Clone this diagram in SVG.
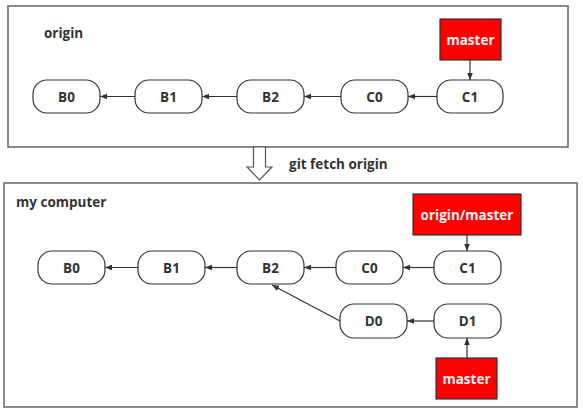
<svg xmlns="http://www.w3.org/2000/svg" width="583" height="416" viewBox="0 0 583 416">
<style>
.frame{fill:#fff;stroke:#666;stroke-width:1.5}
.node{fill:#fff;stroke:#333;stroke-width:1.2}
.ref{fill:#ff0000;stroke:#333;stroke-width:1.2}
.t{font-family:"Open Sans","DejaVu Sans",sans-serif;font-weight:bold;font-size:13.5px;fill:#333;text-anchor:middle;dominant-baseline:central}
.w{fill:#f4f4f4}
.lbl{font-family:"Open Sans","DejaVu Sans",sans-serif;font-weight:bold;font-size:13.5px;fill:#333}
.c{stroke:#333;stroke-width:1.2;fill:none;marker-end:url(#ah)}
</style>
<defs>
<marker id="ah" viewBox="0 0 10 10" refX="10" refY="5" markerWidth="7" markerHeight="7" markerUnits="userSpaceOnUse" orient="auto">
<path d="M0,1 L10,5 L0,9 Z" fill="#333"/>
</marker>
</defs>
<rect x="0" y="0" width="583" height="416" fill="#fff"/>
<g id="origin-frame">
<rect class="frame" x="8" y="6" width="560" height="141"/>
<text class="lbl" x="44" y="38">origin</text>
</g>
<g id="computer-frame">
<rect class="frame" x="4" y="183" width="573" height="224"/>
<text class="lbl" x="16" y="207">my computer</text>
</g>
<g id="fetch-arrow">
<path d="M253.5,147 L265.5,147 L265.5,167 L272,167 L259.5,180 L247,167 L253.5,167 Z" fill="#fff" stroke="#555" stroke-width="1.2"/>
<text class="lbl" x="289" y="169">git fetch origin</text>
</g>
<g id="o-B0"><rect class="node" x="33" y="80" width="67" height="33" rx="14"/><text class="t" x="66.5" y="96.5">B0</text></g>
<g id="o-B1"><rect class="node" x="135" y="80" width="67" height="33" rx="14"/><text class="t" x="168.5" y="96.5">B1</text></g>
<g id="o-B2"><rect class="node" x="237" y="80" width="67" height="33" rx="14"/><text class="t" x="270.5" y="96.5">B2</text></g>
<g id="o-C0"><rect class="node" x="341" y="80" width="67" height="33" rx="14"/><text class="t" x="374.5" y="96.5">C0</text></g>
<g id="o-C1"><rect class="node" x="437" y="80" width="66" height="33" rx="14"/><text class="t" x="470" y="96.5">C1</text></g>
<g id="o-master"><rect class="ref" x="440" y="19" width="61" height="41"/><text class="t w" x="470.5" y="39.5">master</text></g>
<g id="m-B0"><rect class="node" x="38" y="251" width="67" height="33" rx="14"/><text class="t" x="71.5" y="267.5">B0</text></g>
<g id="m-B1"><rect class="node" x="138" y="251" width="67" height="33" rx="14"/><text class="t" x="171.5" y="267.5">B1</text></g>
<g id="m-B2"><rect class="node" x="237" y="251" width="67" height="33" rx="14"/><text class="t" x="270.5" y="267.5">B2</text></g>
<g id="m-C0"><rect class="node" x="336" y="251" width="67" height="33" rx="14"/><text class="t" x="369.5" y="267.5">C0</text></g>
<g id="m-C1"><rect class="node" x="434" y="251" width="67" height="33" rx="14"/><text class="t" x="467.5" y="267.5">C1</text></g>
<g id="m-D0"><rect class="node" x="340" y="304" width="67" height="34" rx="14"/><text class="t" x="373.5" y="321">D0</text></g>
<g id="m-D1"><rect class="node" x="434" y="304" width="67" height="34" rx="14"/><text class="t" x="467.5" y="321">D1</text></g>
<g id="m-origin-master"><rect class="ref" x="413" y="194" width="108" height="41"/><text class="t w" x="467" y="214.5">origin/master</text></g>
<g id="m-master"><rect class="ref" x="436" y="358" width="61" height="41"/><text class="t w" x="466.5" y="378.5">master</text></g>
<g id="connectors">
<line class="c" x1="135" y1="96.5" x2="100" y2="96.5"/>
<line class="c" x1="237" y1="96.5" x2="202" y2="96.5"/>
<line class="c" x1="341" y1="96.5" x2="304" y2="96.5"/>
<line class="c" x1="437" y1="96.5" x2="408" y2="96.5"/>
<line class="c" x1="470" y1="60" x2="470" y2="80"/>
<line class="c" x1="138" y1="267.5" x2="105" y2="267.5"/>
<line class="c" x1="237" y1="267.5" x2="205" y2="267.5"/>
<line class="c" x1="336" y1="267.5" x2="304" y2="267.5"/>
<line class="c" x1="434" y1="267.5" x2="403" y2="267.5"/>
<line class="c" x1="467" y1="235" x2="467" y2="251"/>
<line class="c" x1="434" y1="321" x2="407" y2="321"/>
<line class="c" x1="340" y1="321" x2="272" y2="285"/>
<line class="c" x1="467" y1="358" x2="467" y2="338"/>
</g>
</svg>
